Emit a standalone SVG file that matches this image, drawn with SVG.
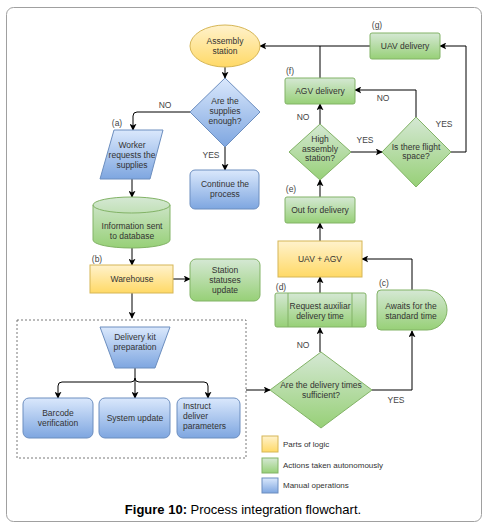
<svg xmlns="http://www.w3.org/2000/svg" width="487" height="531" viewBox="0 0 487 531">
<defs>
<linearGradient id="gy" x1="0" y1="0" x2="0" y2="1"><stop offset="0" stop-color="#fff2cc"/><stop offset="1" stop-color="#ffd966"/></linearGradient>
<linearGradient id="gg" x1="0" y1="0" x2="0" y2="1"><stop offset="0" stop-color="#d5e8d4"/><stop offset="1" stop-color="#97d077"/></linearGradient>
<linearGradient id="gb" x1="0" y1="0" x2="0" y2="1"><stop offset="0" stop-color="#dae8fc"/><stop offset="1" stop-color="#7ea6e0"/></linearGradient>
<marker id="ar" viewBox="0 0 10 10" refX="9" refY="5" markerWidth="7" markerHeight="7" markerUnits="userSpaceOnUse" orient="auto"><path d="M0,0 L10,5 L0,10 L2.5,5 Z" fill="#000"/></marker>
</defs>
<style>
text{font-family:"Liberation Sans",Arial,sans-serif;font-size:8.5px;fill:#333;text-anchor:middle}
.lb{fill:#444}
.y{fill:url(#gy);stroke:#d6b656;stroke-width:1}
.g{fill:url(#gg);stroke:#82b366;stroke-width:1}
.b{fill:url(#gb);stroke:#6c8ebf;stroke-width:1}
.c{fill:none;stroke:#000;stroke-width:1}
.a{marker-end:url(#ar)}
.leg{text-anchor:start;font-size:8px}
</style>
<rect x="6.5" y="7.5" width="475" height="514" rx="7" fill="#fff" stroke="#a0a0a0" stroke-width="1"/>
<rect x="17" y="320" width="229" height="138" fill="none" stroke="#555" stroke-width="0.8" stroke-dasharray="2,2"/>

<g id="connectors">
<path class="c a" d="M225,67 V78"/>
<path class="c a" d="M190,112 H137 Q133,112 133,116 V130"/>
<path class="c a" d="M225,147 V170"/>
<path class="c a" d="M132,179 V197"/>
<path class="c a" d="M132,248 V265"/>
<path class="c a" d="M173,279 H190"/>
<path class="c a" d="M132,293 V318"/>
<path class="c a" d="M135,368 V398"/>
<path class="c a" d="M135,378 Q135,382 131,382 H62 Q58,382 58,386 V398"/>
<path class="c a" d="M135,378 Q135,382 139,382 H204 Q208,382 208,386 V398"/>
<path class="c a" d="M246,390 H270"/>
<path class="c a" d="M320,352 V328"/>
<path class="c a" d="M372,390 H412 V331"/>
<path class="c a" d="M412,290 V259 H362"/>
<path class="c a" d="M320,293 V277"/>
<path class="c a" d="M320,241 V223"/>
<path class="c a" d="M320,197 V180"/>
<path class="c a" d="M320,124 V104"/>
<path class="c a" d="M351,152 H382"/>
<path class="c a" d="M416,117 V90 H355"/>
<path class="c a" d="M451,152 H466 V46 H440"/>
<path class="c a" d="M370,46 H260"/>
<path class="c" d="M320,78 V46"/>
<text class="lb" x="165" y="108">NO</text>
<text class="lb" x="211" y="158">YES</text>
<text class="lb" x="303" y="120">NO</text>
<text class="lb" x="365" y="143">YES</text>
<text class="lb" x="383" y="101">NO</text>
<text class="lb" x="444" y="127">YES</text>
<text class="lb" x="303" y="348">NO</text>
<text class="lb" x="396" y="403">YES</text>
<text class="lb" x="117" y="126">(a)</text>
<text class="lb" x="97" y="262">(b)</text>
<text class="lb" x="384" y="286">(c)</text>
<text class="lb" x="281" y="290">(d)</text>
<text class="lb" x="291" y="192">(e)</text>
<text class="lb" x="290" y="74">(f)</text>
<text class="lb" x="377" y="28">(g)</text>
</g>

<g id="assembly-station"><ellipse class="y" cx="225" cy="46" rx="35" ry="21"/><text x="225" y="44">Assembly</text><text x="225" y="54">station</text></g>
<g id="supplies-enough"><polygon class="b" points="225,78 260,112 225,147 190,112"/><text x="225" y="104">Are the</text><text x="225" y="114">supplies</text><text x="225" y="124">enough?</text></g>
<g id="worker-requests"><polygon class="b" points="114,130 163,130 150,179 100,179" stroke-linejoin="round"/><text x="132" y="148">Worker</text><text x="132" y="158">requests the</text><text x="132" y="168">supplies</text></g>
<g id="continue-process"><rect class="b" x="190" y="170" width="69" height="39" rx="5"/><text x="225" y="187">Continue the</text><text x="225" y="197">process</text></g>
<g id="information-database"><path class="g" d="M93,205 A38.5,8 0 0,1 170,205 V240 A38.5,8 0 0,1 93,240 Z"/><path d="M93,205 A38.5,8 0 0,0 170,205" fill="none" stroke="#82b366"/><text x="132" y="229">Information sent</text><text x="132" y="239">to database</text></g>
<g id="warehouse"><rect class="y" x="90" y="265" width="83" height="28"/><text x="132" y="282">Warehouse</text></g>
<g id="station-statuses"><rect class="g" x="190" y="259" width="70" height="42" rx="6"/><text x="225" y="273">Station</text><text x="225" y="283">statuses</text><text x="225" y="293">update</text></g>
<g id="delivery-kit"><polygon class="b" points="100,327 170,327 155,368 115,368" stroke-linejoin="round"/><text x="135" y="340">Delivery kit</text><text x="135" y="350">preparation</text></g>
<g id="barcode"><rect class="b" x="23" y="398" width="70" height="40" rx="6"/><text x="58" y="416">Barcode</text><text x="58" y="426">verification</text></g>
<g id="system-update"><rect class="b" x="99" y="398" width="71" height="40" rx="6"/><text x="135" y="421">System update</text></g>
<g id="instruct-deliver"><rect class="b" x="177" y="398" width="63" height="40" rx="6"/><text x="183" y="409" style="text-anchor:start">Instruct</text><text x="183" y="419" style="text-anchor:start">deliver</text><text x="183" y="429" style="text-anchor:start">parameters</text></g>
<g id="delivery-times"><polygon class="g" points="321,352 372,390 321,428 270,390"/><text x="321" y="388">Are the delivery times</text><text x="321" y="398">sufficient?</text></g>
<g id="request-auxiliar"><rect class="g" x="275" y="293" width="91" height="34" rx="2"/><path d="M288,293 V327 M352,293 V327" stroke="#82b366"/><text x="320" y="309">Request auxiliar</text><text x="320" y="319">delivery time</text></g>
<g id="awaits-standard"><path class="g" d="M377,294 Q377,290 381,290 H427 A20,20 0 0,1 427,330 H381 Q377,330 377,326 Z"/><text x="411" y="309">Awaits for the</text><text x="411" y="319">standard time</text></g>
<g id="uav-agv"><rect class="y" x="278" y="241" width="84" height="36"/><text x="320" y="262">UAV + AGV</text></g>
<g id="out-for-delivery"><rect class="g" x="285" y="197" width="70" height="26" rx="2"/><text x="320" y="213">Out for delivery</text></g>
<g id="high-assembly"><polygon class="g" points="320,124 351,152 320,180 289,152"/><text x="320" y="142">High</text><text x="320" y="152">assembly</text><text x="320" y="161">station?</text></g>
<g id="flight-space"><polygon class="g" points="416,117 451,152 416,187 382,152"/><text x="416" y="150">Is there flight</text><text x="416" y="159">space?</text></g>
<g id="agv-delivery"><rect class="g" x="285" y="78" width="70" height="26" rx="2"/><text x="320" y="94">AGV delivery</text></g>
<g id="uav-delivery"><rect class="g" x="370" y="33" width="70" height="26" rx="2"/><text x="405" y="49">UAV delivery</text></g>

<g id="legend">
<rect class="y" x="262" y="436" width="16" height="16"/><text class="leg" x="283" y="447">Parts of logic</text>
<rect class="g" x="262" y="458" width="16" height="15"/><text class="leg" x="283" y="468">Actions taken autonomously</text>
<rect class="b" x="262" y="478" width="16" height="15"/><text class="leg" x="283" y="488">Manual operations</text>
</g>
<text x="243" y="514" style="font-size:13px;fill:#000"><tspan font-weight="bold">Figure 10:</tspan> Process integration flowchart.</text>
</svg>
